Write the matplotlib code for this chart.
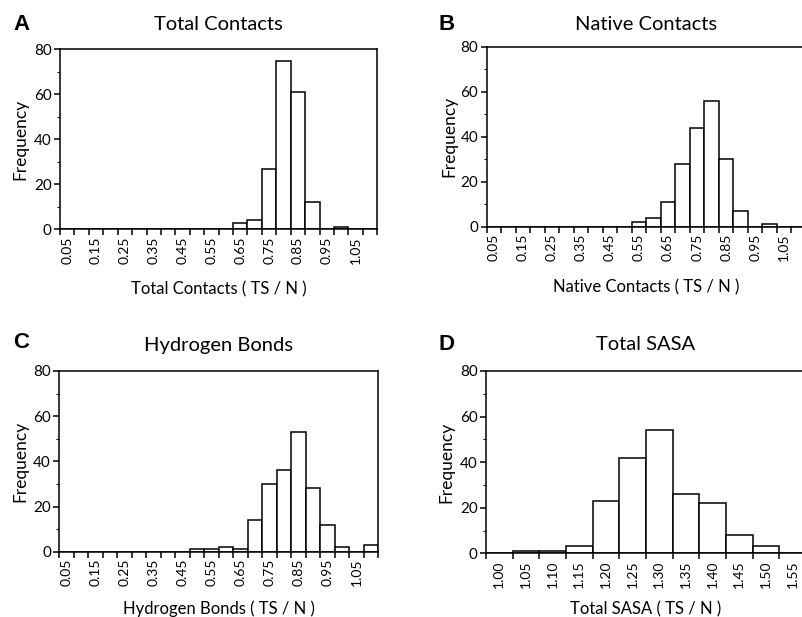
import numpy as np
import matplotlib
matplotlib.use("Agg")
import matplotlib.pyplot as plt

plt.rcParams['font.family'] = ['Lato', 'DejaVu Sans']

# bin centres (labels) and counts
bins_ac = [round(0.05 + 0.05 * k, 2) for k in range(22)]
bins_d = [round(1.00 + 0.05 * k, 2) for k in range(12)]

total_contacts = [0, 0, 0, 0, 0, 0, 0, 0, 0, 0, 0, 0, 3, 4, 27, 75, 61, 12, 0, 1, 0, 0]
native_contacts = [0, 0, 0, 0, 0, 0, 0, 0, 0, 0, 2, 4, 11, 28, 44, 56, 30, 7, 0, 1, 0, 0]
hydrogen_bonds = [0, 0, 0, 0, 0, 0, 0, 0, 0, 1, 1, 2, 1, 14, 30, 36, 53, 28, 12, 2, 0, 3]
total_sasa = [0, 1, 1, 3, 23, 42, 54, 26, 22, 8, 3, 0]

W, H = 802, 617
fig = plt.figure(figsize=(W / 100, H / 100), dpi=100)


def px_axes(x0, y_top, x1, y_bot):
    return fig.add_axes([x0 / W, 1 - y_bot / H, (x1 - x0) / W, (y_bot - y_top) / H])


panels = [
    # letter, title, xlabel, labels, counts, axes box, label every n, letter pos, title y, xlabel y, ylabel x
    ("A", "Total Contacts", "Total Contacts ( TS / N )", bins_ac, total_contacts,
     (60, 49.3, 377.3, 229.3), 2, (21, 25), 25, 289, 20),
    ("B", "Native Contacts", "Native Contacts ( TS / N )", bins_ac, native_contacts,
     (486.7, 46.7, 806, 226.7), 2, (447, 25), 25, 287, 449),
    ("C", "Hydrogen Bonds", "Hydrogen Bonds ( TS / N )", bins_ac, hydrogen_bonds,
     (59.3, 371, 378.3, 551.7), 2, (21, 343), 345, 609, 20),
    ("D", "Total SASA", "Total SASA ( TS / N )", bins_d, total_sasa,
     (486, 371, 806, 553.3), 1, (446, 345), 345, 609, 446),
]

for letter, title, xlabel, labels, counts, box, every, lpos, ty, xly, ylx in panels:
    ax = px_axes(*box)
    n = len(counts)
    pos = np.arange(n)
    ax.bar(pos, counts, width=1.0, color='white', edgecolor='black', linewidth=1.1, zorder=2)
    ax.set_xlim(-0.5, n - 0.5)
    ax.set_ylim(0, 80)

    # ticks at bin edges, labels at bin centres
    ax.set_xticks(np.arange(n + 1) - 0.5)
    ax.set_xticklabels([])
    ax.set_xticks(pos[::every], minor=True)
    ax.set_xticklabels(["%.2f" % v for v in labels[::every]], minor=True,
                       rotation=90, fontsize=10, va='top', ha='center')
    ax.tick_params(axis='x', which='major', direction='out', length=4, width=1.1)
    ax.tick_params(axis='x', which='minor', length=0, pad=5)

    ax.set_yticks([0, 20, 40, 60, 80])
    ax.set_yticks([10, 30, 50, 70], minor=True)
    ax.tick_params(axis='y', which='major', direction='out', length=4, width=1.1, labelsize=11, pad=2)
    ax.tick_params(axis='y', which='minor', direction='out', length=2.5, width=0.8)

    for s in ax.spines.values():
        s.set_linewidth(1.1)
        s.set_color('black')

    fig.text(lpos[0] / W, 1 - lpos[1] / H, letter, fontsize=16, fontweight='bold',
             family='Liberation Sans', ha='center', va='center')
    cx = (box[0] + box[2]) / 2
    fig.text(cx / W, 1 - ty / H, title, fontsize=14.5, ha='center', va='center')
    fig.text(cx / W, 1 - xly / H, xlabel, fontsize=12, ha='center', va='center')
    fig.text(ylx / W, 1 - (box[1] + box[3]) / 2 / H, "Frequency", fontsize=12.5,
             rotation=90, ha='center', va='center')

fig.savefig("out.png", dpi=100)
